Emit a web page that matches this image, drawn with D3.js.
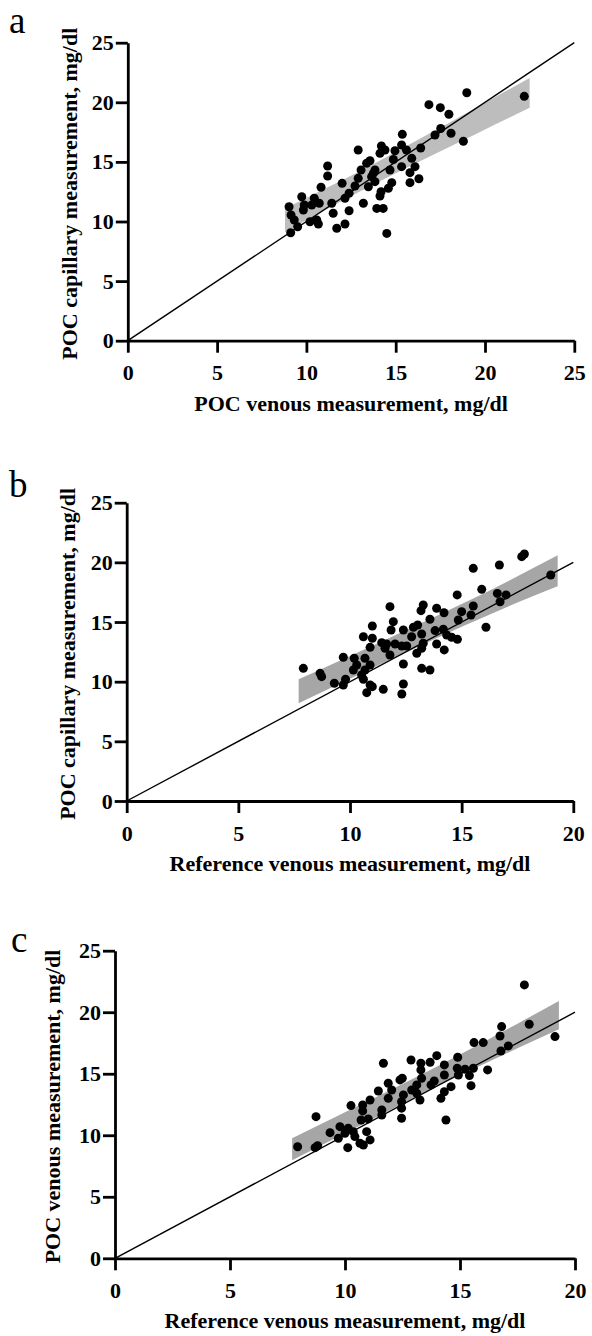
<!DOCTYPE html>
<html>
<head>
<meta charset="utf-8">
<script src="https://cdn.jsdelivr.net/npm/d3@7"></script>
<style>
  body { margin: 0; background: #fff; }
  svg text { font-family: 'Liberation Serif', 'Times New Roman', serif; fill: #000; }
</style>
</head>
<body>
<svg id="chart" width="592" height="1336"></svg>
<script>
// ---- data ----
// a: POC venous (x) vs POC capillary (y)
const aPoints = [[18.98,20.8],[22.2,20.5],[16.86,19.8],[17.5,19.55],[17.98,19.0],[17.52,17.8],[17.2,17.26],[18.1,17.4],[18.79,16.73],[16.4,16.17],[15.37,17.31],[15.33,16.42],[15.6,16.0],[15.9,15.3],[16.08,14.6],[15.8,14.1],[16.3,13.59],[15.8,13.26],[14.2,16.33],[14.96,15.94],[12.9,16.0],[14.12,15.72],[14.87,15.2],[15.33,14.6],[14.68,14.32],[13.56,15.1],[13.06,14.32],[13.84,14.32],[12.9,13.62],[13.65,13.76],[13.84,13.34],[12.72,12.98],[13.47,12.92],[14.78,13.26],[14.59,12.79],[14.18,12.5],[14.12,12.14],[13.94,11.1],[14.3,11.1],[14.5,9.0],[13.19,11.53],[12.39,12.37],[12.0,13.2],[12.16,11.95],[12.39,10.9],[12.16,9.79],[11.7,9.43],[11.5,10.69],[11.42,11.53],[11.19,14.66],[11.19,13.82],[10.82,12.87],[10.72,11.53],[10.44,11.95],[10.3,11.38],[9.74,12.08],[9.88,11.38],[9.83,10.96],[9.03,11.24],[9.14,10.55],[9.32,10.13],[9.51,9.56],[9.12,9.06],[10.2,9.98],[10.58,10.13],[10.67,9.79],[13.37,14.88],[13.75,14.04],[14.4,16.0]];
const aBandX = [8.8, 11, 13.5, 16.5, 19.5, 22.5];
const aBandLo = [9.1, 10.92, 12.92, 15.16, 17.35, 19.54];
const aBandHi = [11.1, 12.72, 14.62, 17.06, 19.55, 22.04];

// b: reference venous (x) vs POC capillary (y)
const bPoints = [[17.81,20.7],[17.69,20.48],[16.69,19.78],[15.52,19.5],[18.99,18.94],[15.9,17.74],[14.8,17.27],[16.6,17.4],[16.99,17.27],[16.72,16.7],[15.52,16.34],[15.0,15.87],[15.42,15.59],[14.85,15.17],[16.09,14.56],[14.21,15.78],[13.88,16.15],[13.28,16.43],[13.18,15.95],[13.58,15.23],[11.79,16.29],[11.94,15.03],[11.0,14.67],[11.84,14.33],[12.39,14.33],[12.84,14.56],[13.03,14.75],[13.81,14.28],[14.18,14.39],[14.33,13.91],[14.55,13.72],[14.81,13.55],[12.76,13.77],[13.21,14.0],[10.6,13.77],[11.0,13.64],[11.42,13.27],[11.64,13.16],[12.02,13.16],[12.32,12.99],[12.54,12.99],[10.9,12.88],[11.57,12.8],[13.28,13.22],[13.21,12.8],[12.99,12.38],[13.88,13.16],[14.22,12.66],[11.79,12.24],[9.7,12.05],[10.19,11.96],[10.67,11.96],[10.3,11.4],[10.15,10.98],[10.9,11.4],[10.67,10.98],[12.39,11.48],[13.21,11.12],[13.58,10.98],[7.91,11.12],[8.66,10.7],[8.73,10.42],[9.3,9.87],[9.7,9.72],[9.8,10.2],[10.6,10.2],[10.9,9.72],[11.0,9.58],[10.75,9.08],[11.49,9.36],[12.39,9.81],[12.32,8.97],[10.52,10.56]];
const bBandX = [7.7, 10, 12.5, 15, 17.5, 19.3];
const bBandLo = [8.2, 10.25, 12.45, 14.6, 16.63, 17.99];
const bBandHi = [10.2, 12.15, 14.3, 16.5, 18.83, 20.59];

// c: reference venous (x) vs POC venous (y)
const cPoints = [[17.8,22.22],[18.01,19.02],[19.13,18.02],[16.81,18.83],[16.74,18.07],[17.1,17.26],[16.78,16.85],[15.61,17.53],[16.01,17.53],[14.9,16.34],[14.88,15.45],[15.22,15.37],[15.58,15.45],[16.2,15.31],[14.93,14.9],[15.41,14.85],[15.48,14.03],[13.99,16.47],[13.7,15.93],[14.32,15.72],[14.32,14.9],[14.61,13.95],[14.32,13.54],[14.17,13.0],[14.39,11.24],[13.88,14.41],[13.74,14.09],[13.3,15.85],[13.3,15.31],[13.33,14.63],[12.87,16.12],[11.67,15.85],[12.39,14.5],[12.49,14.63],[13.12,14.09],[12.9,13.68],[13.12,13.41],[13.26,12.87],[11.88,14.23],[12.03,13.68],[11.45,13.6],[12.54,13.28],[12.46,12.73],[12.46,12.2],[12.46,11.38],[11.88,13.0],[11.6,12.06],[11.6,11.65],[11.09,12.87],[10.77,12.46],[10.77,11.98],[10.26,12.41],[11.01,11.33],[10.7,11.24],[10.94,10.29],[11.09,9.62],[10.8,9.21],[10.65,9.35],[10.12,8.99],[10.36,10.29],[10.43,9.89],[10.14,10.57],[9.78,10.7],[9.71,9.76],[10.0,10.16],[9.35,10.21],[8.74,11.51],[8.81,9.15],[7.94,9.07],[8.7,8.99]];
const cBandX = [7.7, 10, 12.5, 15, 17.5, 19.3];
const cBandLo = [7.96, 10.17, 12.57, 14.87, 17.07, 18.61];
const cBandHi = [9.76, 11.87, 14.17, 16.57, 19.07, 20.91];

const yTicks = [0, 5, 10, 15, 20, 25];

const panels = [
  { letter: 'a', points: aPoints, bandX: aBandX, bandLo: aBandLo, bandHi: aBandHi, bandColor: '#bdbdbd',
    xMax: 25, xTicks: [0, 5, 10, 15, 20, 25],
    xTitle: 'POC venous measurement, mg/dl', yTitle: 'POC capillary measurement, mg/dl',
    left: 127.8, right: 574.3, top: 42.7, bottom: 340.7, yTitleX: 77, letterX: 9, letterY: 33 },
  { letter: 'b', points: bPoints, bandX: bBandX, bandLo: bBandLo, bandHi: bBandHi, bandColor: '#a6a6a6',
    xMax: 20, xTicks: [0, 5, 10, 15, 20],
    xTitle: 'Reference venous measurement, mg/dl', yTitle: 'POC capillary measurement, mg/dl',
    left: 126.7, right: 573.3, top: 502.7, bottom: 801, yTitleX: 75, letterX: 9, letterY: 497 },
  { letter: 'c', points: cPoints, bandX: cBandX, bandLo: cBandLo, bandHi: cBandHi, bandColor: '#a6a6a6',
    xMax: 20, xTicks: [0, 5, 10, 15, 20],
    xTitle: 'Reference venous measurement, mg/dl', yTitle: 'POC venous measurement, mg/dl',
    left: 115, right: 575, top: 950.7, bottom: 1258.3, yTitleX: 60, letterX: 11, letterY: 952 }
];

const svg = d3.select('#chart');

panels.forEach(p => {
  const g = svg.append('g');

  const x = d3.scaleLinear().domain([0, p.xMax]).range([p.left, p.right]);
  const y = d3.scaleLinear().domain([0, 25]).range([p.bottom, p.top]);

  // confidence band
  const band = p.bandX.map((bx, i) => ({ x: bx, lo: p.bandLo[i], hi: p.bandHi[i] }));
  g.append('path')
    .datum(band)
    .attr('fill', p.bandColor)
    .attr('d', d3.area().x(d => x(d.x)).y0(d => y(d.lo)).y1(d => y(d.hi)).curve(d3.curveMonotoneX));

  // line of identity
  g.append('line')
    .attr('x1', x(0)).attr('y1', y(0))
    .attr('x2', x(p.xMax)).attr('y2', y(p.xMax))
    .attr('stroke', '#000')
    .attr('stroke-width', 1.4);

  // points
  g.selectAll('.dot')
    .data(p.points)
    .enter()
    .append('circle')
    .attr('class', 'dot')
    .attr('cx', d => x(d[0]))
    .attr('cy', d => y(d[1]))
    .attr('r', 4.5)
    .attr('fill', '#000');

  // axes
  const xAxis = g.append('g')
    .attr('transform', `translate(0,${p.bottom})`)
    .call(d3.axisBottom(x).tickValues(p.xTicks).tickSize(12).tickSizeOuter(0).tickPadding(12));
  const yAxis = g.append('g')
    .attr('transform', `translate(${p.left},0)`)
    .call(d3.axisLeft(y).tickValues(yTicks).tickSize(12).tickSizeOuter(0).tickPadding(2));

  [xAxis, yAxis].forEach(ax => {
    ax.select('.domain').attr('stroke', '#000').attr('stroke-width', 2.8);
    ax.selectAll('.tick line').attr('stroke', '#000').attr('stroke-width', 2.8);
    ax.selectAll('.tick text')
      .attr('font-family', "'Liberation Serif', 'Times New Roman', serif")
      .attr('font-size', 22)
      .attr('font-weight', 'bold')
      .attr('fill', '#000');
  });

  // axis titles
  g.append('text')
    .attr('x', (p.left + p.right) / 2)
    .attr('y', p.bottom + 70)
    .attr('text-anchor', 'middle')
    .attr('font-size', 22)
    .attr('font-weight', 'bold')
    .text(p.xTitle);

  g.append('text')
    .attr('transform', `translate(${p.yTitleX},${(p.top + p.bottom) / 2 + 2}) rotate(-90)`)
    .attr('text-anchor', 'middle')
    .attr('font-size', 22)
    .attr('font-weight', 'bold')
    .text(p.yTitle);

  // panel letter
  g.append('text')
    .attr('x', p.letterX)
    .attr('y', p.letterY)
    .attr('font-size', 37)
    .text(p.letter);
});
</script>
</body>
</html>
